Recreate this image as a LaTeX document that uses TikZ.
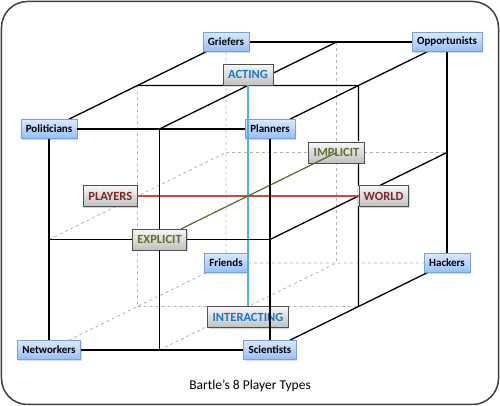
\documentclass[tikz,border=0pt]{standalone}
\usepackage{fontspec}
\setmainfont{Carlito}
\usepackage{tikz}
\usetikzlibrary{positioning, shadows, backgrounds}
\definecolor{typetop}{RGB}{216,232,255}
\definecolor{typebot}{RGB}{150,190,248}
\definecolor{typeborder}{RGB}{120,160,222}
\definecolor{axistop}{RGB}{247,247,247}
\definecolor{axisbot}{RGB}{192,192,192}
\definecolor{axisborder}{RGB}{80,80,80}
\definecolor{actblue}{RGB}{28,118,200}
\definecolor{actline}{RGB}{80,180,220}
\definecolor{worldred}{RGB}{128,38,38}
\definecolor{worldline}{RGB}{205,72,72}
\definecolor{implgreen}{RGB}{92,112,48}
\definecolor{implline}{RGB}{88,108,48}
\definecolor{hiddengray}{RGB}{178,178,178}
\definecolor{framegray}{RGB}{64,64,64}

\tikzset{
  typebox/.style={draw=typeborder, top color=typetop, bottom color=typebot,
    font=\bfseries\fontsize{11}{12}\selectfont, inner xsep=5pt, inner ysep=0pt,
    minimum height=19pt,
    drop shadow={shadow xshift=1pt, shadow yshift=-1.2pt, opacity=0.3}},
  axisbox/.style={draw=axisborder, top color=axistop, bottom color=axisbot,
    font=\bfseries\fontsize{12.5}{14}\selectfont, inner xsep=5pt, inner ysep=0pt,
    minimum height=21pt,
    drop shadow={shadow xshift=1pt, shadow yshift=-1.2pt, opacity=0.35}},
  seen/.style={black, line width=1.3pt},
  hidden/.style={hiddengray, dashed, line width=0.8pt}
}

\begin{document}
\begin{tikzpicture}[x={(110.5pt,0pt)}, y={(0pt,110.5pt)}, z={(88.5pt,43.5pt)}]
  \useasboundingbox (-49pt,-56pt) rectangle (451pt,350pt);

  % corners of the cube
  \node[typebox] (net) at (0,0,0) {Networkers};
  \node[typebox] (sci) at (2,0,0) {Scientists};
  \node[typebox] (pol) at (0,2,0) {Politicians};
  \node[typebox] (pla) at (2,2,0) {Planners};
  \node[typebox] (fri) at (0,0,2) {Friends};
  \node[typebox] (hac) at (2,0,2) {Hackers};
  \node[typebox] (gri) at (0,2,2) {Griefers};
  \node[typebox] (opp) at (2,2,2) {Opportunists};

  % the three axes
  \node[axisbox, text=worldred, anchor=east] (players) at (0,1,1) {PLAYERS};
  \node[axisbox, text=worldred, anchor=west] (world) at (2,1,1) {WORLD};
  \node[axisbox, text=actblue, anchor=south] (acting) at (1,2,1) {ACTING};
  \node[axisbox, text=actblue, anchor=north] (interacting) at (1,0,1) {INTERACTING};
  \node[axisbox, text=implgreen] (explicit) at (1,1,0) {EXPLICIT};
  \node[axisbox, text=implgreen] (implicit) at (1,1,2) {IMPLICIT};

  \node[font=\fontsize{13.5}{16}\selectfont] (title) at (201pt,-36pt) {Bartle’s 8 Player Types};

  % midpoints of the faces
  \coordinate (ft) at (1,2,0);
  \coordinate (fb) at (1,0,0);
  \coordinate (fl) at (0,1,0);
  \coordinate (fr) at (2,1,0);
  \coordinate (bt) at (1,2,2);
  \coordinate (bb) at (1,0,2);
  \coordinate (bl) at (0,1,2);
  \coordinate (br) at (2,1,2);
  \coordinate (mtl) at (0,2,1);
  \coordinate (mtr) at (2,2,1);
  \coordinate (mbl) at (0,0,1);
  \coordinate (mbr) at (2,0,1);

  \begin{scope}[on background layer]
    \draw[framegray, line width=1.5pt, rounded corners=26pt]
      (-47.5pt,-54.5pt) rectangle (449.5pt,348.5pt);
    % hidden faces
    \draw[hidden] (gri) -- (fri) (fri) -- (hac) (net) -- (fri);
    \draw[hidden] (bt) -- (bb) (bl) -- (br);
    \draw[hidden] (fl) -- (bl) (mtl) -- (mbl);
    \draw[hidden] (fb) -- (bb) (mbl) -- (mbr);
    % top and right faces
    \draw[seen] (gri) -- (opp) (opp) -- (hac);
    \draw[seen] (pol) -- (gri) (pla) -- (opp) (sci) -- (hac);
    \draw[seen] (ft) -- (bt) (mtl) -- (mtr);
    \draw[seen] (fr) -- (br) (mtr) -- (mbr);
  \end{scope}

  \draw[worldline, line width=1.2pt] (players) -- (world);
  \draw[actline, line width=1.2pt] (acting) -- (interacting);
  \draw[implline, line width=1.2pt] (explicit) -- (implicit.center);

  % front face
  \draw[seen] (pol) -- (pla) (pol) -- (net) (net) -- (sci) (sci) -- (pla);
  \draw[seen] (ft) -- (explicit) (explicit) -- (fb);
  \draw[seen] (fl) -- (explicit) (explicit) -- (fr);
\end{tikzpicture}
\end{document}
